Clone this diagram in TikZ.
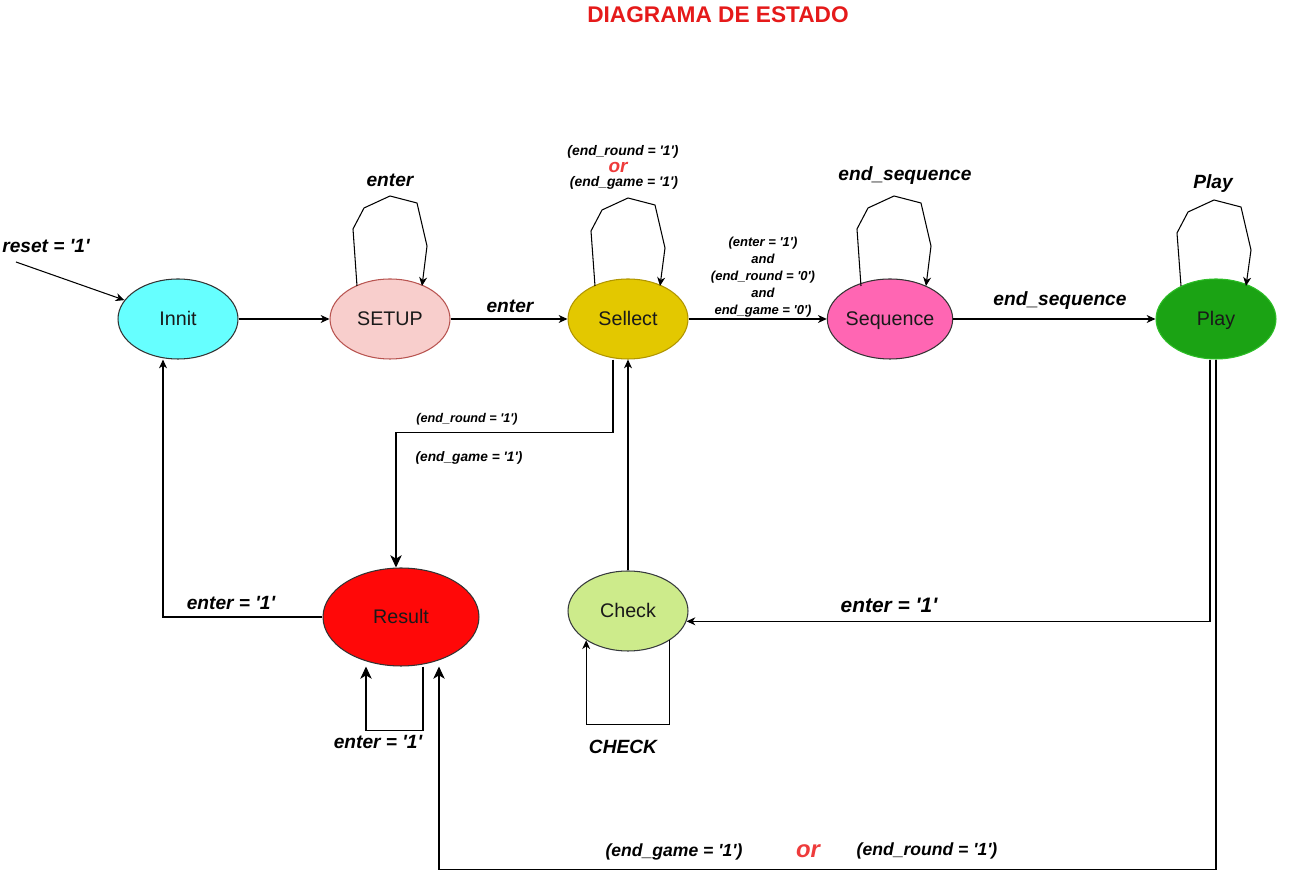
\documentclass[tikz,border=0pt]{standalone}
\usepackage{fontspec}
\setmainfont{Liberation Sans}[Ligatures=TeXOff]
\usetikzlibrary{arrows.meta, calc, positioning, shapes.geometric}

\definecolor{innitcol}{HTML}{66FFFF}
\definecolor{setupcol}{HTML}{F8CECC}
\definecolor{setupline}{HTML}{B85450}
\definecolor{selcol}{HTML}{E3C800}
\definecolor{selline}{HTML}{B09500}
\definecolor{seqcol}{HTML}{FF66B3}
\definecolor{playcol}{HTML}{1BA314}
\definecolor{playline}{HTML}{2DBE27}
\definecolor{resultcol}{HTML}{FF0808}
\definecolor{checkcol}{HTML}{CDEB8B}
\definecolor{checkline}{HTML}{36393D}
\definecolor{titlered}{HTML}{E51A1A}
\definecolor{orred}{HTML}{EE3B3B}

\begin{document}
\begin{tikzpicture}[x=0.02cm, y=-0.02cm, line width=0.6pt,
    state/.style={ellipse, draw=black!80, line width=0.6pt, inner sep=0pt,
        minimum width=2.4cm, minimum height=1.6cm, text=black!90,
        text height=1.65ex, text depth=0.35ex,
        font=\fontsize{11.2}{13}\selectfont},
    lbl/.style={font=\bfseries\itshape\fontsize{10.9}{13}\selectfont},
    small/.style={font=\bfseries\itshape\fontsize{#1}{#1}\selectfont},
    arr/.style={-{Stealth[length=5pt, width=4.5pt, inset=1.5pt]}},
    arrbig/.style={-{Stealth[length=7pt, width=6.5pt, inset=2pt]}}]
    \useasboundingbox (0,0) rectangle (1299,884);

    % Title
    \node[text=titlered, font=\bfseries\fontsize{12.9}{15}\selectfont] (title) at (718,15) {DIAGRAMA DE ESTADO};

    % States
    \node[state, fill=innitcol] (innit) at (178,319) {Innit};
    \node[state, fill=setupcol, draw=setupline] (setup) at (390,319) {SETUP};
    \node[state, fill=selcol, draw=selline] (sel) at (628,319) {Sellect};
    \node[state, fill=seqcol] (seq) at (890,319) {Sequence};
    \node[state, fill=playcol, draw=playline] (play) at (1216,319) {Play};
    \node[state, fill=resultcol, minimum width=3.12cm, minimum height=1.96cm] (result) at (401,617) {Result};
    \node[state, fill=checkcol, draw=checkline] (check) at (628,611) {Check};

    % Reset
    \coordinate (rst) at (16,262);
    \draw[arr] (rst) -- (innit);
    \node[lbl] (rstlbl) at (46,246) {reset = '1'};

    % Main row
    \draw[arr] (innit) -- (setup);
    \draw[arr] (setup) -- (sel);
    \draw[arr] (sel) -- (seq);
    \draw[arr] (seq) -- (play);
    \node[lbl] (entlbl) at (510,306) {enter};
    \node[align=center, font=\bfseries\itshape\fontsize{7.4}{9.6}\selectfont] (condlbl) at (763,277)
        {(enter = '1')\\and\\(end\_round = '0')\\and\\end\_game = '0')};
    \node[lbl] (seqlbl) at (1060,301) {end\_sequence};

    % Self loops on top
    \foreach \n/\dx/\dy in {setup/0/0, sel/0/2, seq/4/0, play/-2/4} {
        \draw[arr] ($(\n)+(-33+\dx,-33)$) -- ($(\n)+(-37+\dx,-90+\dy)$)
            -- ($(\n)+(-26+\dx,-111+\dy)$) -- ($(\n)+(\dx,-123+\dy)$)
            -- ($(\n)+(27+\dx,-116+\dy)$) -- ($(\n)+(37+\dx,-73+\dy)$)
            -- ($(\n)+(32+\dx,-33)$);
    }
    \node[lbl] (setuploop) at (390,180) {enter};
    \node[small=7.9] (selloop1) at (623,152) {(end\_round = '1')};
    \node[text=orred, font=\bfseries\itshape\fontsize{10.8}{11}\selectfont] (selloop2) at (618,167) {or};
    \node[small=7.9] (selloop3) at (624,183) {(end\_game = '1')};
    \node[lbl] (seqloop) at (905,176) {end\_sequence};
    \node[lbl] (playloop) at (1213,184) {Play};

    % Sellect -> Result
    \draw[arrbig] ($(sel.south)+(-15,0)$) -- ++(0,73) -| ($(result.north)+(-5,0)$);
    \node[small=7.2] (rndlbl) at (467,419) {(end\_round = '1')};
    \node[small=7.8] (gamelbl) at (469,458) {(end\_game = '1')};

    % Check -> Sellect
    \draw[arr] (check) -- (sel);

    % Play -> Check
    \draw[arr] ($(play.south)+(-6,0)$) |- (check.-10);
    \node[font=\bfseries\itshape\fontsize{11.9}{13}\selectfont] (chklbl) at (889,605) {enter = '1'};

    % Play -> Result
    \draw[arrbig] (play.south) -- ++(0,510) -| ($(result.south)+(38,0)$);
    \node[small=10] (endg) at (674,852) {(end\_game = '1')};
    \node[text=orred, font=\bfseries\itshape\fontsize{13.6}{14}\selectfont] (orlbl) at (808,851) {or};
    \node[small=10] (endr) at (927,851) {(end\_round = '1')};

    % Result -> Innit
    \draw[arr] (result.west) -| ($(innit.south)+(-15,0)$);
    \node[lbl] (reslbl) at (231,603) {enter = '1'};

    % Bottom self loops
    \draw[arrbig] ($(result.south)+(22,0)$) -- ++(0,64) -| ($(result.south)+(-35,0)$);
    \node[lbl] (resloop) at (378,742) {enter = '1'};
    \draw[arr] (check.-35) -- ++(0,84) -| (check.215);
    \node[lbl] (chkloop) at (623,747) {CHECK};
\end{tikzpicture}
\end{document}
